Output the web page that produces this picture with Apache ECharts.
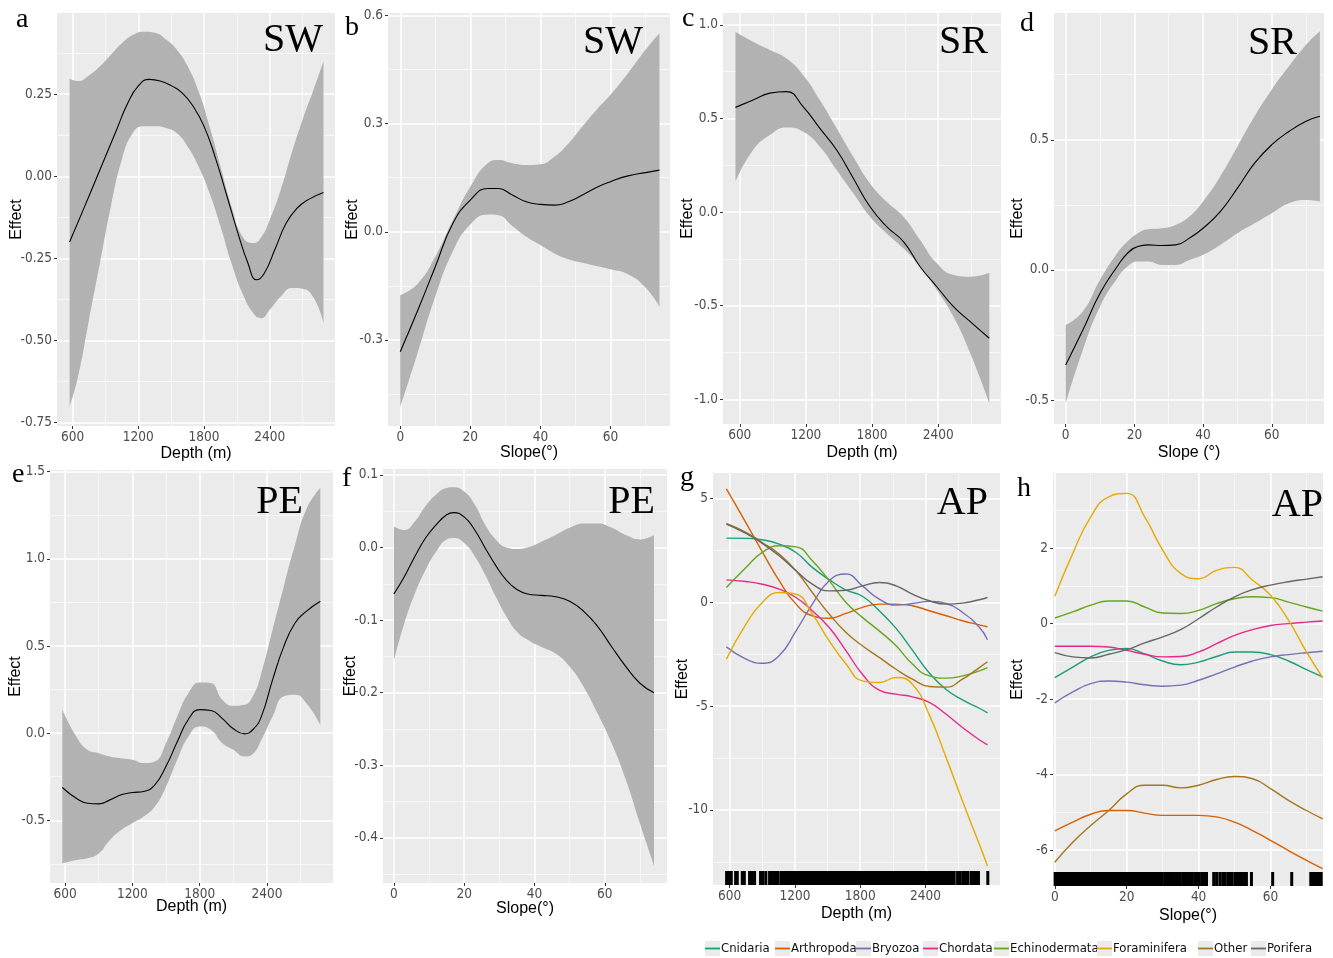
<!DOCTYPE html>
<html><head><meta charset="utf-8">
<script src="https://cdn.jsdelivr.net/npm/echarts@6/dist/echarts.min.js"></script>
<style>html,body{margin:0;padding:0;background:#fff}#c{width:1333px;height:958px}</style>
</head><body><div id="c"></div>
<script>
// ---------------- DATA ----------------
const depthTicks = [600, 1200, 1800, 2400];
const depthLabels = ['600', '1200', '1800', '2400'];
const depthMinor = [900, 1500, 2100, 2700];
const slopeTicks = [0, 20, 40, 60];
const slopeLabels = ['0', '20', '40', '60'];
const slopeMinor = [10, 30, 50, 70];

const aYTicks = [-0.75, -0.5, -0.25, 0, 0.25];
const aYLabels = ['-0.75', '-0.50', '-0.25', '0.00', '0.25'];
const aYMinor = [-0.625, -0.375, -0.125, 0.125, 0.375];
const bYTicks = [-0.3, 0, 0.3, 0.6];
const bYLabels = ['-0.3', '0.0', '0.3', '0.6'];
const bYMinor = [-0.45, -0.15, 0.15, 0.45];
const cYTicks = [-1, -0.5, 0, 0.5, 1];
const cYLabels = ['-1.0', '-0.5', '0.0', '0.5', '1.0'];
const cYMinor = [-0.75, -0.25, 0.25, 0.75];
const dYTicks = [-0.5, 0, 0.5];
const dYLabels = ['-0.5', '0.0', '0.5'];
const dYMinor = [-0.25, 0.25, 0.75];
const eYTicks = [-0.5, 0, 0.5, 1, 1.5];
const eYLabels = ['-0.5', '0.0', '0.5', '1.0', '1.5'];
const eYMinor = [-0.75, -0.25, 0.25, 0.75, 1.25];
const fYTicks = [-0.4, -0.3, -0.2, -0.1, 0, 0.1];
const fYLabels = ['-0.4', '-0.3', '-0.2', '-0.1', '0.0', '0.1'];
const fYMinor = [-0.45, -0.35, -0.25, -0.15, -0.05, 0.05];
const gYTicks = [-10, -5, 0, 5];
const gYLabels = ['-10', '-5', '0', '5'];
const gYMinor = [-12.5, -7.5, -2.5, 2.5];
const hYTicks = [-6, -4, -2, 0, 2];
const hYLabels = ['-6', '-4', '-2', '0', '2'];
const hYMinor = [-5, -3, -1, 1, 3];

// a: SW ~ depth
const aFitX = [573, 700, 850, 1000, 1100, 1200, 1300, 1400, 1500, 1600, 1700, 1800, 1900, 2000, 2100, 2200, 2280, 2350, 2450, 2550, 2650, 2750, 2890];
const aFit = [-0.20, -0.10, 0.02, 0.14, 0.22, 0.275, 0.295, 0.29, 0.276, 0.254, 0.213, 0.152, 0.06, -0.05, -0.163, -0.264, -0.315, -0.295, -0.22, -0.142, -0.097, -0.071, -0.049];
const aBandX = [573, 650, 750, 850, 950, 1050, 1150, 1250, 1350, 1450, 1550, 1650, 1750, 1850, 1950, 2050, 2150, 2250, 2320, 2400, 2500, 2600, 2700, 2800, 2890];
const aHi = [0.297, 0.29, 0.307, 0.335, 0.37, 0.405, 0.43, 0.44, 0.437, 0.417, 0.386, 0.335, 0.259, 0.152, 0.03, -0.091, -0.183, -0.203, -0.186, -0.132, -0.041, 0.071, 0.173, 0.264, 0.35];
const aLo = [-0.70, -0.61, -0.437, -0.264, -0.091, 0.051, 0.132, 0.152, 0.152, 0.147, 0.132, 0.091, 0.03, -0.051, -0.152, -0.264, -0.356, -0.417, -0.432, -0.406, -0.366, -0.34, -0.342, -0.37, -0.447];

// b: SW ~ slope
const bX = [0, 5, 10, 15, 20, 25, 28, 32, 36, 40, 44, 48, 52, 56, 60, 65, 70, 74];
const bFit = [-0.333, -0.218, -0.097, 0.023, 0.088, 0.12, 0.12, 0.102, 0.083, 0.076, 0.074, 0.083, 0.102, 0.123, 0.139, 0.155, 0.164, 0.171];
const bHi = [-0.176, -0.144, -0.069, 0.032, 0.125, 0.19, 0.199, 0.19, 0.185, 0.187, 0.208, 0.245, 0.292, 0.338, 0.38, 0.44, 0.505, 0.551];
const bLo = [-0.486, -0.335, -0.18, -0.055, 0.02, 0.048, 0.046, 0.016, -0.014, -0.037, -0.06, -0.076, -0.086, -0.095, -0.104, -0.118, -0.155, -0.208];

// c: SR ~ depth
const cX = [561, 721, 873, 1024, 1176, 1327, 1479, 1630, 1782, 1933, 2085, 2236, 2388, 2539, 2691, 2864];
const cFit = [0.559, 0.598, 0.635, 0.643, 0.562, 0.447, 0.331, 0.18, 0.028, -0.078, -0.158, -0.292, -0.399, -0.505, -0.585, -0.674];
const cHi = [0.963, 0.909, 0.865, 0.82, 0.731, 0.598, 0.447, 0.295, 0.153, 0.055, -0.025, -0.149, -0.274, -0.336, -0.345, -0.324];
const cLo = [0.162, 0.331, 0.411, 0.452, 0.429, 0.349, 0.224, 0.1, -0.025, -0.114, -0.194, -0.292, -0.416, -0.559, -0.754, -1.021];

// d: SR ~ slope
const dX = [0, 5, 10, 15, 18, 21, 24, 28, 32, 36, 40, 45, 50, 55, 60, 65, 70, 74];
const dFit = [-0.365, -0.231, -0.09, 0.013, 0.064, 0.09, 0.096, 0.094, 0.096, 0.122, 0.16, 0.224, 0.314, 0.41, 0.481, 0.532, 0.571, 0.59];
const dHi = [-0.212, -0.16, -0.038, 0.064, 0.109, 0.141, 0.156, 0.16, 0.173, 0.205, 0.263, 0.359, 0.474, 0.59, 0.692, 0.782, 0.865, 0.917];
const dLo = [-0.513, -0.308, -0.141, -0.032, 0.013, 0.032, 0.032, 0.019, 0.019, 0.038, 0.058, 0.096, 0.141, 0.179, 0.218, 0.256, 0.269, 0.263];

// e: PE ~ depth
const eX = [576, 700, 800, 900, 1000, 1100, 1200, 1300, 1400, 1500, 1600, 1700, 1800, 1900, 2000, 2100, 2200, 2280, 2350, 2450, 2550, 2650, 2750, 2875];
const eFit = [-0.312, -0.374, -0.402, -0.406, -0.383, -0.354, -0.341, -0.335, -0.297, -0.19, -0.05, 0.08, 0.135, 0.13, 0.085, 0.025, -0.004, 0.025, 0.096, 0.307, 0.498, 0.632, 0.699, 0.757];
const eHi = [0.134, -0.019, -0.096, -0.115, -0.134, -0.144, -0.153, -0.172, -0.163, -0.057, 0.096, 0.23, 0.291, 0.287, 0.192, 0.157, 0.163, 0.22, 0.345, 0.594, 0.843, 1.082, 1.284, 1.408];
const eLo = [-0.747, -0.728, -0.718, -0.69, -0.613, -0.556, -0.517, -0.479, -0.421, -0.307, -0.153, -0.019, 0.038, 0.019, -0.057, -0.096, -0.134, -0.115, -0.038, 0.096, 0.211, 0.22, 0.172, 0.048];

// f: PE ~ slope
const fX = [0, 3, 6, 9, 12, 15, 17, 20, 23, 26, 29, 32, 35, 38, 42, 46, 50, 54, 58, 62, 66, 70, 74];
const fFit = [-0.064, -0.04, -0.012, 0.013, 0.031, 0.045, 0.048, 0.042, 0.024, -0.001, -0.025, -0.045, -0.058, -0.064, -0.066, -0.068, -0.074, -0.088, -0.109, -0.137, -0.164, -0.187, -0.2];
const fHi = [0.029, 0.024, 0.036, 0.057, 0.073, 0.082, 0.083, 0.077, 0.059, 0.031, 0.011, 0.0, -0.002, 0.0, 0.008, 0.017, 0.027, 0.033, 0.033, 0.027, 0.017, 0.011, 0.017];
const fLo = [-0.155, -0.104, -0.063, -0.031, -0.006, 0.011, 0.013, 0.006, -0.012, -0.038, -0.068, -0.095, -0.116, -0.127, -0.137, -0.146, -0.164, -0.192, -0.229, -0.27, -0.32, -0.38, -0.438];

// g: AP ~ depth (by phylum)
const taxa = ['Cnidaria', 'Arthropoda', 'Bryozoa', 'Chordata', 'Echinodermata', 'Foraminifera', 'Other', 'Porifera'];
const gX = [570, 750, 900, 1055, 1210, 1360, 1515, 1670, 1820, 1975, 2130, 2280, 2435, 2590, 2740, 2895, 2970];
const gCnidaria = [3.10, 3.09, 3.02, 2.81, 2.41, 1.69, 1.10, 0.60, 0.30, -0.40, -1.25, -2.30, -3.40, -4.20, -4.70, -5.10, -5.32];
const gArthropoda = [5.47, 3.84, 2.44, 1.05, -0.08, -0.64, -0.76, -0.53, -0.24, -0.08, -0.08, -0.16, -0.40, -0.64, -0.88, -1.08, -1.17];
const gBryozoa = [-2.14, -2.73, -2.93, -2.57, -1.37, -0.08, 1.05, 1.37, 0.80, 0.16, -0.13, -0.05, 0.05, -0.05, -0.48, -1.20, -1.80];
const gChordata = [1.09, 1.01, 0.88, 0.64, 0.24, -0.40, -1.21, -2.33, -3.46, -4.23, -4.42, -4.55, -4.82, -5.39, -6.03, -6.62, -6.86];
const gEchinodermata = [0.72, 1.69, 2.41, 2.73, 2.68, 2.01, 1.05, 0.0, -0.72, -1.37, -2.09, -2.97, -3.54, -3.65, -3.54, -3.30, -3.14];
const gForaminifera = [-2.73, -1.05, 0.0, 0.48, 0.40, -0.56, -1.85, -2.97, -3.78, -3.86, -3.62, -3.94, -5.42, -7.48, -9.57, -11.66, -12.70];
const gOther = [3.81, 3.38, 2.89, 2.33, 1.53, 0.48, -0.56, -1.45, -2.09, -2.65, -3.22, -3.70, -4.05, -4.08, -3.70, -3.14, -2.86];
const gPorifera = [3.78, 3.33, 2.85, 2.25, 1.53, 0.88, 0.56, 0.59, 0.80, 0.96, 0.80, 0.40, 0.08, -0.08, -0.03, 0.13, 0.24];
const gRugDepth = [572, 585, 597, 615, 655, 670, 716, 735, 783, 808, 829, 884, 906, 933, 967, 991, 1013, 1034, 1046,
  1074, 1083, 1097, 1110, 1121, 1136, 1149, 1163, 1172, 1188, 1199, 1214, 1228, 1237, 1252, 1266, 1279, 1290, 1306, 1318,
  1333, 1345, 1357, 1372, 1386, 1397, 1412, 1425, 1439, 1450, 1466, 1478, 1490, 1505, 1519, 1531, 1546, 1558, 1573, 1585,
  1600, 1613, 1626, 1641, 1652, 1668, 1681, 1694, 1707, 1722, 1735, 1748, 1762, 1776, 1790, 1803, 1817, 1830, 1845, 1858,
  1872, 1885, 1899, 1913, 1926, 1940, 1954, 1967, 1981, 1995, 2008, 2023, 2036, 2050, 2064, 2077, 2091, 2105, 2118, 2133,
  2146, 2160, 2174, 2188, 2201, 2216, 2229, 2243, 2258, 2271, 2286, 2299, 2314, 2328, 2341, 2356, 2370, 2384, 2399, 2413,
  2427, 2441, 2456, 2470, 2485, 2499, 2514, 2528, 2543, 2558, 2572, 2587, 2602, 2617, 2632, 2648, 2664,
  2695, 2719, 2744, 2768, 2790, 2820, 2842, 2866, 2887, 2973];

// h: AP ~ slope (by phylum)
const hX = [0, 5, 10, 15, 20, 25, 30, 35, 40, 45, 50, 55, 60, 65, 70, 74.5];
const hCnidaria = [-1.43, -1.15, -0.88, -0.71, -0.66, -0.80, -0.99, -1.09, -1.02, -0.87, -0.75, -0.75, -0.82, -0.99, -1.22, -1.41];
const hArthropoda = [-5.49, -5.26, -5.05, -4.95, -4.95, -5.02, -5.08, -5.08, -5.08, -5.12, -5.26, -5.48, -5.74, -6.01, -6.27, -6.49];
const hBryozoa = [-2.10, -1.81, -1.59, -1.52, -1.55, -1.62, -1.66, -1.63, -1.50, -1.33, -1.15, -0.99, -0.88, -0.82, -0.77, -0.73];
const hChordata = [-0.60, -0.60, -0.60, -0.62, -0.71, -0.81, -0.88, -0.87, -0.75, -0.53, -0.31, -0.16, -0.05, 0.0, 0.04, 0.07];
const hEchinodermata = [0.15, 0.31, 0.49, 0.60, 0.60, 0.44, 0.28, 0.27, 0.35, 0.53, 0.66, 0.71, 0.69, 0.57, 0.44, 0.33];
const hForaminifera = [0.725, 1.86, 2.83, 3.36, 3.45, 2.83, 1.95, 1.33, 1.19, 1.41, 1.49, 1.15, 0.75, 0.09, -0.75, -1.43];
const hOther = [-6.32, -5.79, -5.35, -4.95, -4.51, -4.28, -4.28, -4.35, -4.28, -4.13, -4.05, -4.11, -4.37, -4.68, -4.95, -5.17];
const hPorifera = [-0.77, -0.88, -0.91, -0.81, -0.69, -0.51, -0.35, -0.16, 0.13, 0.44, 0.71, 0.90, 1.02, 1.11, 1.18, 1.24];
const hRugSlope = [0.1, 0.5, 0.9, 1.4, 1.8, 2.3, 2.7, 3.2, 3.6, 4.1, 4.5, 5.0, 5.4, 5.9, 6.3, 6.8, 7.2, 7.7, 8.1, 8.6,
  9.0, 9.5, 9.9, 10.4, 10.8, 11.3, 11.7, 12.2, 12.6, 13.1, 13.5, 14.0, 14.4, 14.9, 15.3, 15.8, 16.2, 16.7, 17.1, 17.6,
  18.0, 18.5, 18.9, 19.4, 19.8, 20.3, 20.7, 21.2, 21.6, 22.1, 22.5, 23.0, 23.4, 23.9, 24.3, 24.8, 25.3, 25.9, 26.4, 27.0,
  27.6, 28.1, 28.8, 29.3, 29.9, 30.6, 31.1, 31.8, 32.4, 33.0, 33.7, 34.3, 34.9, 35.6, 36.3, 36.9, 37.6, 38.2, 38.9, 39.5,
  40.2, 40.9, 41.5, 42.2, 44.2, 45.0, 45.9, 46.7, 47.3, 48.1, 48.7, 49.3, 50.1, 50.7, 51.3, 51.6, 52.2, 52.9, 53.3, 54.7,
  60.6, 65.9, 71.2, 71.9, 72.4, 73.0, 73.5, 74.1];

// ---------------- STYLE / LAYOUT ----------------
const taxaColors = ['#1B9E77', '#D95F02', '#7570B3', '#E7298A', '#66A61E', '#E6AB02', '#A6761D', '#666666'];
const NARROW = "'DejaVu Sans Condensed','Liberation Sans Narrow',sans-serif";
const SANS = "'Liberation Sans',Arial,sans-serif";
const SERIF = "'Liberation Serif','Times New Roman',serif";

const panels = [
  {grid: [57, 13, 278, 413], x: [458, 2995], y: [-0.76, 0.497], xt: [depthTicks, depthLabels, depthMinor], yt: [aYTicks, aYLabels, aYMinor], xName: 'Depth (m)', yGap: 32, xGap: 20},
  {grid: [388, 13, 282, 413], x: [-3.5, 77], y: [-0.539, 0.607], xt: [slopeTicks, slopeLabels, slopeMinor], yt: [bYTicks, bYLabels, bYMinor], xName: 'Slope(°)', yGap: 27, xGap: 19},
  {grid: [723, 13, 278, 411], x: [448, 2970], y: [-1.132, 1.063], xt: [depthTicks, depthLabels, depthMinor], yt: [cYTicks, cYLabels, cYMinor], xName: 'Depth (m)', yGap: 27, xGap: 21},
  {grid: [1054, 13, 270, 411], x: [-3.4, 75.2], y: [-0.592, 0.987], xt: [slopeTicks, slopeLabels, slopeMinor], yt: [dYTicks, dYLabels, dYMinor], xName: 'Slope (°)', yGap: 28, xGap: 21},
  {grid: [50, 470, 283, 413], x: [466, 2988], y: [-0.86, 1.51], xt: [depthTicks, depthLabels, depthMinor], yt: [eYTicks, eYLabels, eYMinor], xName: 'Depth (m)', yGap: 26, xGap: 16},
  {grid: [383, 469, 284, 414], x: [-3.1, 77.7], y: [-0.462, 0.108], xt: [slopeTicks, slopeLabels, slopeMinor], yt: [fYTicks, fYLabels, fYMinor], xName: 'Slope(°)', yGap: 24, xGap: 18},
  {grid: [713, 473, 287, 412], x: [447, 3085], y: [-13.62, 6.24], xt: [depthTicks, depthLabels, depthMinor], yt: [gYTicks, gYLabels, gYMinor], xName: 'Depth (m)', yGap: 22, xGap: 21},
  {grid: [1053, 473, 270, 413], x: [-0.5, 74.6], y: [-6.95, 3.99], xt: [slopeTicks, slopeLabels, slopeMinor], yt: [hYTicks, hYLabels, hYMinor], xName: 'Slope(°)', yGap: 27, xGap: 22}
];

const grids = [], xAxes = [], yAxes = [], series = [];
function labelFor(ticks, labels) {
  return function (v) {
    let best = 0, bd = Infinity;
    ticks.forEach((t, i) => { const d = Math.abs(t - v); if (d < bd) { bd = d; best = i; } });
    return labels[best];
  };
}
panels.forEach((p, i) => {
  grids.push({left: p.grid[0], top: p.grid[1], width: p.grid[2], height: p.grid[3], show: true, backgroundColor: '#EBEBEB', borderWidth: 0, containLabel: false});
  const axLabel = {color: '#4D4D4D', fontSize: 13.5, fontFamily: NARROW};
  xAxes.push({
    type: 'value', gridIndex: i, min: p.x[0], max: p.x[1], position: 'bottom',
    name: p.xName, nameLocation: 'middle', nameGap: p.xGap, nameMoveOverlap: false,
    nameTextStyle: {color: '#000', fontSize: 16, fontFamily: SANS},
    axisLine: {show: false, onZero: false},
    axisTick: {show: true, length: 3, lineStyle: {color: '#333', width: 1}, customValues: p.xt[0]},
    axisLabel: Object.assign({margin: 4, customValues: p.xt[0], formatter: labelFor(p.xt[0], p.xt[1])}, axLabel),
    splitLine: {show: true, lineStyle: {color: '#FFFFFF', width: 1.5}}
  });
  xAxes.push({
    type: 'value', gridIndex: i, min: p.x[0], max: p.x[1], position: 'top',
    axisLine: {show: false, onZero: false}, axisTick: {show: false, customValues: p.xt[2]},
    axisLabel: {show: false, customValues: p.xt[2]},
    splitLine: {show: true, lineStyle: {color: '#FAFAFA', width: 0.8}}
  });
  yAxes.push({
    type: 'value', gridIndex: i, min: p.y[0], max: p.y[1], position: 'left',
    name: 'Effect', nameLocation: 'middle', nameGap: p.yGap, nameMoveOverlap: false,
    nameTextStyle: {color: '#000', fontSize: 16, fontFamily: SANS},
    axisLine: {show: false, onZero: false},
    axisTick: {show: true, length: 3, lineStyle: {color: '#333', width: 1}, customValues: p.yt[0]},
    axisLabel: Object.assign({margin: 5, customValues: p.yt[0], formatter: labelFor(p.yt[0], p.yt[1])}, axLabel),
    splitLine: {show: true, lineStyle: {color: '#FFFFFF', width: 1.5}}
  });
  yAxes.push({
    type: 'value', gridIndex: i, min: p.y[0], max: p.y[1], position: 'right',
    axisLine: {show: false, onZero: false}, axisTick: {show: false, customValues: p.yt[2]},
    axisLabel: {show: false, customValues: p.yt[2]},
    splitLine: {show: true, lineStyle: {color: '#FAFAFA', width: 0.8}}
  });
});

// Confidence band: rows are [value, x] so the stack runs on the value (y) dimension.
function addBandPanel(i, bx, lo, hi, fx, fit) {
  const ax = {xAxisIndex: 2 * i, yAxisIndex: 2 * i};
  const st = 'band' + i;
  series.push(Object.assign({type: 'line', data: bx.map((x, k) => [lo[k], x]), encode: {x: 1, y: 0}, stack: st, stackStrategy: 'all', symbol: 'none', smooth: 0.5, lineStyle: {width: 0, opacity: 0}, silent: true, z: 2}, ax));
  series.push(Object.assign({type: 'line', data: bx.map((x, k) => [hi[k] - lo[k], x]), encode: {x: 1, y: 0}, stack: st, stackStrategy: 'all', symbol: 'none', smooth: 0.5, lineStyle: {width: 0, opacity: 0}, areaStyle: {color: '#B2B2B2', opacity: 1}, silent: true, z: 2}, ax));
  series.push(Object.assign({type: 'line', data: fx.map((x, k) => [x, fit[k]]), symbol: 'none', smooth: 0.5, lineStyle: {color: '#000', width: 1.1}, silent: true, z: 3}, ax));
}
addBandPanel(0, aBandX, aLo, aHi, aFitX, aFit);
addBandPanel(1, bX, bLo, bHi, bX, bFit);
addBandPanel(2, cX, cLo, cHi, cX, cFit);
addBandPanel(3, dX, dLo, dHi, dX, dFit);
addBandPanel(4, eX, eLo, eHi, eX, eFit);
addBandPanel(5, fX, fLo, fHi, fX, fFit);

function addTaxaPanel(i, xs, sets, rug, rugY) {
  sets.forEach((vals, k) => {
    series.push({type: 'line', name: taxa[k], xAxisIndex: 2 * i, yAxisIndex: 2 * i, data: xs.map((x, j) => [x, vals[j]]),
      symbol: 'none', smooth: 0.5, color: taxaColors[k], lineStyle: {color: taxaColors[k], width: 1.4}, silent: true, z: 3});
  });
  series.push({type: 'scatter', xAxisIndex: 2 * i, yAxisIndex: 2 * i, data: rug.map(x => [x, rugY]),
    symbol: 'rect', symbolSize: [3, 14], symbolOffset: [0, -7], itemStyle: {color: '#000', opacity: 1}, clip: false, silent: true, z: 4});
}
addTaxaPanel(6, gX, [gCnidaria, gArthropoda, gBryozoa, gChordata, gEchinodermata, gForaminifera, gOther, gPorifera], gRugDepth, panels[6].y[0]);
addTaxaPanel(7, hX, [hCnidaria, hArthropoda, hBryozoa, hChordata, hEchinodermata, hForaminifera, hOther, hPorifera], hRugSlope, panels[7].y[0]);

// titles: panel letters and response labels
const letterStyle = {fontFamily: SERIF, fontSize: 28, fontWeight: 'normal', color: '#000'};
const tagStyle = {fontFamily: SERIF, fontSize: 40, fontWeight: 'normal', color: '#000'};
const titles = [
  {text: 'a', left: 16, top: 6}, {text: 'b', left: 345, top: 14}, {text: 'c', left: 682, top: 5}, {text: 'd', left: 1020, top: 10},
  {text: 'e', left: 12, top: 461}, {text: 'f', left: 342, top: 465}, {text: 'g', left: 680, top: 464}, {text: 'h', left: 1017, top: 475}
].map(t => Object.assign({padding: 0, textStyle: letterStyle}, t)).concat([
  {text: 'SW', right: 1010, top: 20}, {text: 'SW', right: 690, top: 22}, {text: 'SR', right: 345, top: 22}, {text: 'SR', right: 36, top: 23},
  {text: 'PE', right: 1030, top: 482}, {text: 'PE', right: 678, top: 482}, {text: 'AP', right: 345, top: 483}, {text: 'AP', right: 10, top: 485}
].map(t => Object.assign({padding: 0, textStyle: tagStyle}, t)));

// legend: one grey key box + one coloured line per taxon
const legendLeft = [705, 775, 856, 923, 994, 1097, 1198, 1251];
const legends = [];
taxa.forEach((name, k) => {
  legends.push({left: legendLeft[k], top: 941, padding: 0, data: [name], icon: 'rect', itemWidth: 15, itemHeight: 15, itemGap: 0,
    selectedMode: false, itemStyle: {color: '#EBEBEB', borderWidth: 0},
    textStyle: {color: 'rgba(0,0,0,0)', fontSize: 13, lineHeight: 15, fontFamily: NARROW, padding: [0, 0, 0, -4]}});
  legends.push({left: legendLeft[k], top: 941, padding: 0, data: [name], icon: 'rect', itemWidth: 15, itemHeight: 1.8, itemGap: 0,
    selectedMode: false,
    textStyle: {color: '#111', fontSize: 13, lineHeight: 15, fontFamily: NARROW, padding: [0, 0, 0, -4]}});
});

const chart = echarts.init(document.getElementById('c'), null, {renderer: 'canvas'});
chart.setOption({
  animation: false,
  backgroundColor: '#FFFFFF',
  title: titles,
  legend: legends,
  grid: grids,
  xAxis: xAxes,
  yAxis: yAxes,
  series: series
});
</script></body></html>
